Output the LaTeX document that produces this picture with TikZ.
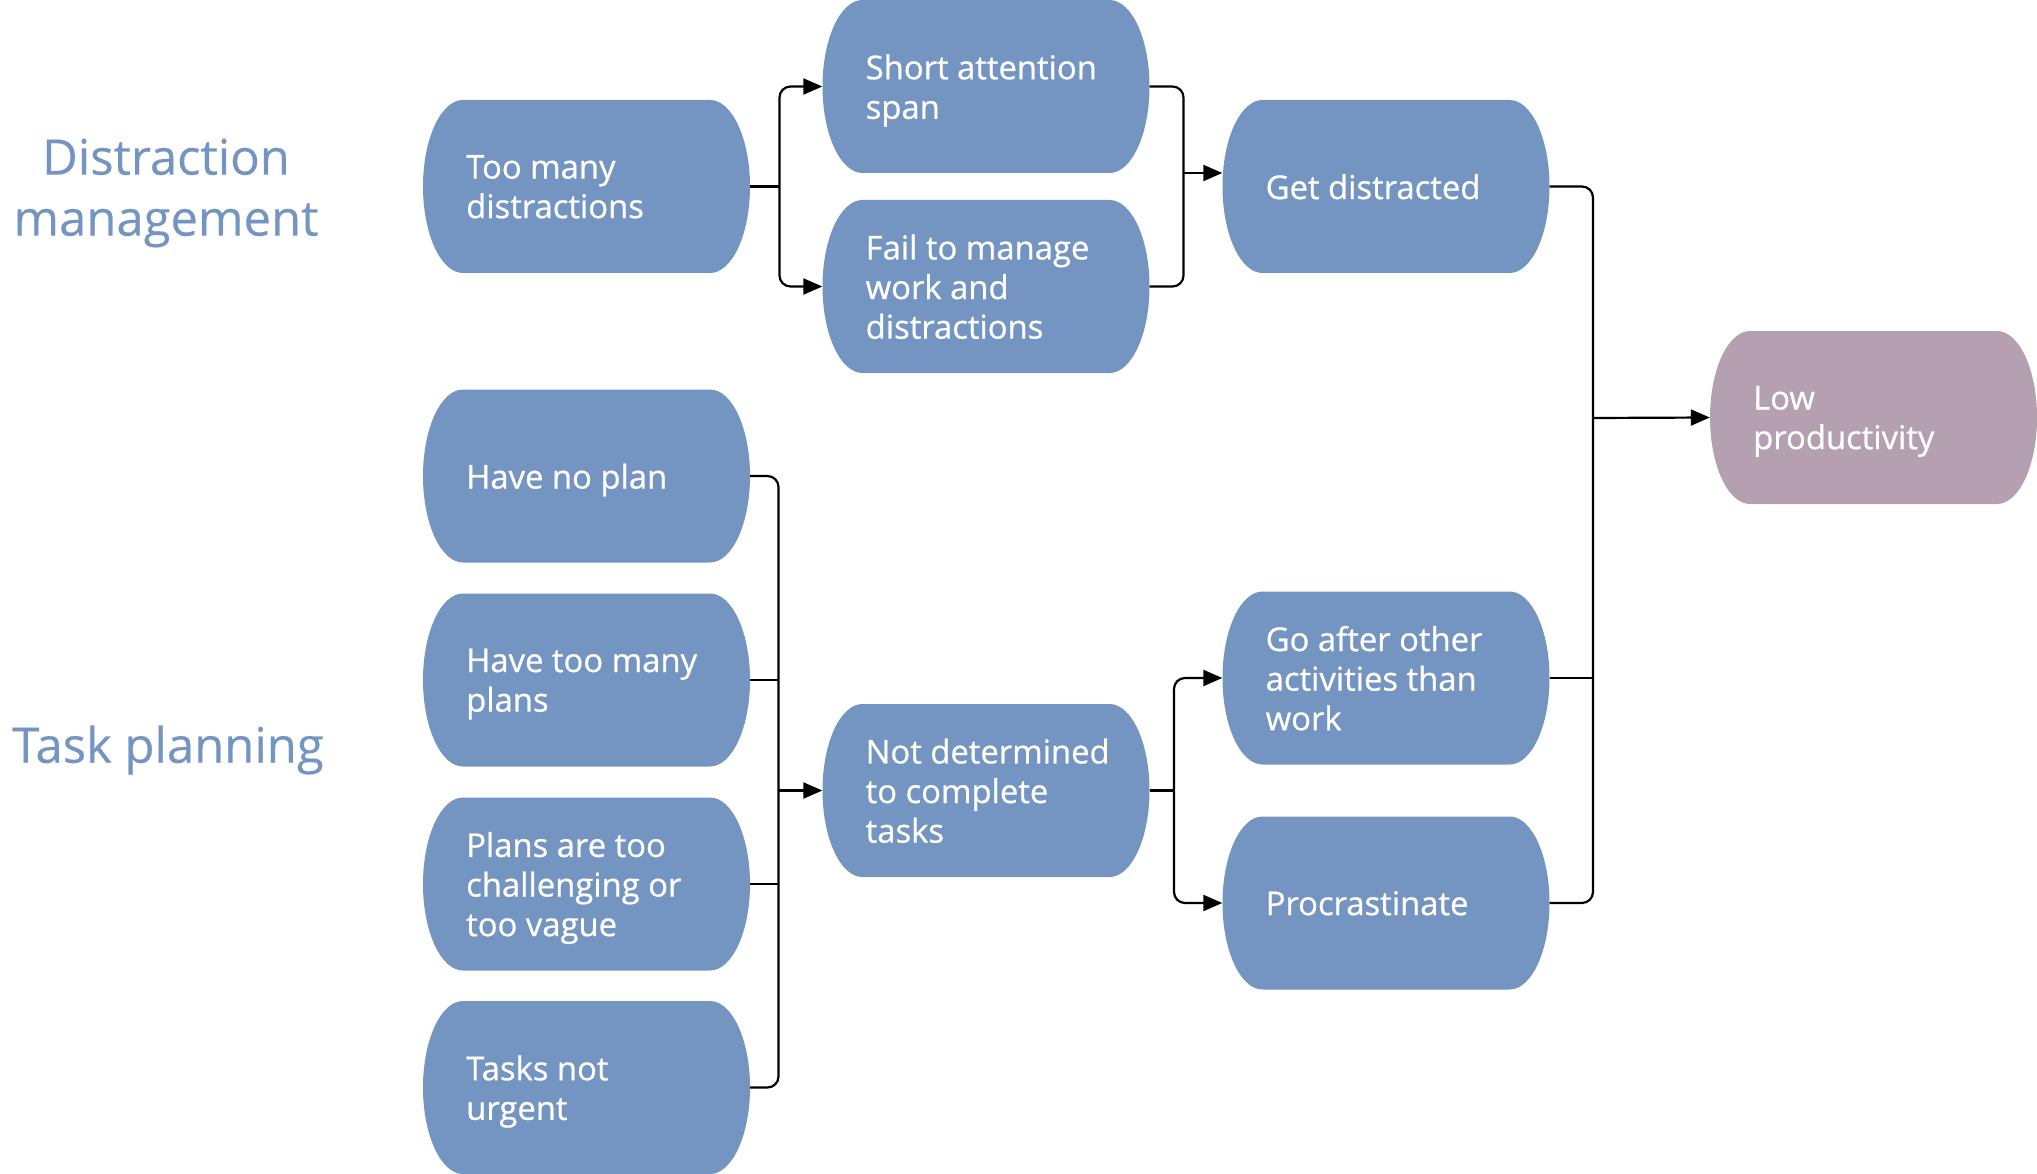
\documentclass[tikz,border=0pt]{standalone}
\usepackage{fontspec}
\setmainfont{Open Sans}
\newfontfamily\boxfont[FakeBold=0.7]{Open Sans}
\newfontfamily\titlefont[FakeBold=0.3]{Open Sans}
\usetikzlibrary{arrows.meta}
\definecolor{boxblue}{RGB}{116,148,194}
\definecolor{boxmauve}{RGB}{181,160,177}
\definecolor{titleblue}{RGB}{116,148,194}
\newcommand\cbox[5]{%
  \fill[#4] (#2-123.5,#3-86.5) -- (#2+123.5,#3-86.5)
    .. controls (#2+145.6,#3-86.5) and (#2+163.5,#3-47.8) .. (#2+163.5,#3)
    .. controls (#2+163.5,#3+47.8) and (#2+145.6,#3+86.5) .. (#2+123.5,#3+86.5)
    -- (#2-123.5,#3+86.5)
    .. controls (#2-145.6,#3+86.5) and (#2-163.5,#3+47.8) .. (#2-163.5,#3)
    .. controls (#2-163.5,#3-47.8) and (#2-145.6,#3-86.5) .. (#2-123.5,#3-86.5) -- cycle;
  \node[boxnode] (#1) at (#2,#3) {};
  \node[boxtext] (#1t) at (#2-120.5,#3+4) {\vphantom{Ay}#5\vphantom{Ay}};
}
\begin{document}
\begin{tikzpicture}[x=1pt,y=-1pt,
  boxnode/.style={minimum width=327pt,minimum height=173pt,inner sep=0pt,draw=none},
  boxtext/.style={anchor=west,inner sep=0pt,align=left,text=white,font=\boxfont\fontsize{32.8}{39.6}\selectfont},
  titletext/.style={align=center,text=titleblue,inner sep=0pt,font=\titlefont\fontsize{49}{61}\selectfont},
  conn/.style={line width=2.2pt,draw=black,rounded corners=11pt},
  arr/.style={conn,-{Triangle[length=19pt,width=16pt]}}]
\useasboundingbox (0,0) rectangle (2037,1174);
% titles
\node[titletext] (dm) at (166,193) {Distraction\\management};
\node[titletext] (tp) at (168,750) {Task planning};
% column 1
\cbox{tmd}{586.5}{186.5}{boxblue}{Too many\\distractions}
\cbox{hnp}{586.5}{476}{boxblue}{Have no plan}
\cbox{htm}{586.5}{680}{boxblue}{Have too many\\plans}
\cbox{pat}{586.5}{884}{boxblue}{Plans are too\\challenging or\\too vague}
\cbox{tnu}{586.5}{1087.5}{boxblue}{Tasks not\\urgent}
% column 2
\cbox{sas}{986}{86.5}{boxblue}{Short attention\\span}
\cbox{ftm}{986}{286.5}{boxblue}{Fail to manage\\work and\\distractions}
\cbox{ntd}{986}{790.5}{boxblue}{Not determined\\to complete\\tasks}
% column 3
\cbox{gd}{1386}{186.5}{boxblue}{Get distracted}
\cbox{goa}{1386}{678}{boxblue}{Go after other\\activities than\\work}
\cbox{pro}{1386}{903}{boxblue}{Procrastinate}
% column 4
\cbox{lp}{1873.5}{417.5}{boxmauve}{Low\\productivity}
% bus coordinates
\coordinate (b1) at (779.5,186.5);
\coordinate (b2) at (1183.5,173);
\coordinate (b3) at (1593,418);
\coordinate (b4) at (778.5,790.5);
\coordinate (b5) at (1174,790.5);
% connectors
\draw[conn] (tmd.east) -- (b1);
\draw[arr] (b1) |- (sas.west);
\draw[arr] (b1) |- (ftm.west);
\draw[conn] (sas.east) -| (b2) |- (ftm.east);
\draw[arr] (b2) -- (gd.west |- b2);
\draw[conn] (gd.east) -| (b3) |- (pro.east);
\draw[conn] (goa.east) -- (goa.east -| b3);
\draw[arr] (b3) -- (lp.west);
\draw[conn] (hnp.east) -| (b4) |- (tnu.east);
\draw[conn] (htm.east) -- (htm.east -| b4);
\draw[conn] (pat.east) -- (pat.east -| b4);
\draw[arr] (b4) -- (ntd.west);
\draw[conn] (ntd.east) -- (b5);
\draw[arr] (b5) |- (goa.west);
\draw[arr] (b5) |- (pro.west);
\end{tikzpicture}
\end{document}
